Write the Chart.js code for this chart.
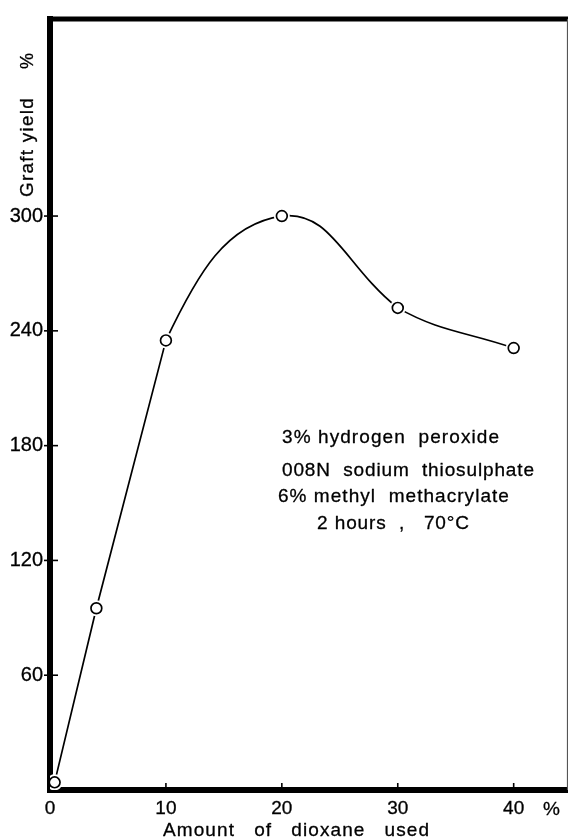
<!DOCTYPE html>
<html><head><meta charset="utf-8">
<script src="https://cdn.jsdelivr.net/npm/chart.js@4/dist/chart.umd.min.js"></script>
<style>html,body{margin:0;padding:0;background:#fff;overflow:hidden}canvas{display:block}</style>
</head><body>
<canvas id="c" width="568" height="838"></canvas>
<script>
// ---- data ----
const dioxanePct = [0.4, 4, 10, 20, 30, 40];
const graftYieldPct = [4, 95, 235, 300, 252, 231];
const xTickValues = [0, 10, 20, 30, 40];
const yTickValues = [60, 120, 180, 240, 300];
const conditionLines = ['3% hydrogen  peroxide', '008N  sodium  thiosulphate', '6% methyl  methacrylate', '2 hours  ,   70°C'];
const xAxisTitle = 'Amount   of   dioxane   used';
const yAxisTitle = 'Graft yield';
const unitLabel = '%';

const FONT = '"Liberation Sans", Arial, sans-serif';
const points = dioxanePct.map((x, i) => ({ x: x, y: graftYieldPct[i] }));

function fitText(ctx, text, x, y, w) {
  ctx.letterSpacing = '0px';
  const m = ctx.measureText(text).width;
  const n = [...text].length;
  const ls = (w - m) / Math.max(1, n);
  ctx.letterSpacing = ls.toFixed(2) + 'px';
  ctx.textAlign = 'left';
  ctx.strokeText(text, x, y);
  ctx.fillText(text, x, y);
  ctx.letterSpacing = '0px';
}

const framePlugin = {
  id: 'frame',
  afterDraw(chart) {
    const ctx = chart.ctx, a = chart.chartArea;
    const xs = chart.scales.x, ys = chart.scales.y;
    ctx.save();
    ctx.strokeStyle = '#000';
    // top border
    ctx.lineWidth = 5;
    ctx.beginPath(); ctx.moveTo(a.left - 3, a.top); ctx.lineTo(chart.width, a.top); ctx.stroke();
    // right thin border
    ctx.strokeStyle = '#555'; ctx.lineWidth = 1.2;
    ctx.beginPath(); ctx.moveTo(a.right + 0.5, a.top); ctx.lineTo(a.right + 0.5, a.bottom); ctx.stroke();
    // tick marks
    ctx.strokeStyle = '#000'; ctx.lineWidth = 1.6;
    yTickValues.forEach(v => {
      const p = ys.getPixelForValue(v);
      ctx.beginPath(); ctx.moveTo(a.left - 6, p); ctx.lineTo(a.left + 8, p); ctx.stroke();
    });
    xTickValues.forEach(v => {
      if (v === 0) return;
      const p = xs.getPixelForValue(v);
      ctx.beginPath(); ctx.moveTo(p, a.bottom - 7); ctx.lineTo(p, a.bottom); ctx.stroke();
    });
    ctx.fillStyle = '#000';
    ctx.strokeStyle = '#000';
    ctx.lineWidth = 0.3;
    ctx.lineJoin = 'round';
    ctx.textBaseline = 'alphabetic';
    // unit after the last x tick
    ctx.font = '19px ' + FONT;
    ctx.textAlign = 'left';
    ctx.strokeText(unitLabel, 543, 815);
    ctx.fillText(unitLabel, 543, 815);
    // x axis title
    ctx.font = '19px ' + FONT;
    fitText(ctx, xAxisTitle, 163, 836, 267);
    // y axis title (rotated)
    ctx.save();
    ctx.translate(33, 197);
    ctx.rotate(-Math.PI / 2);
    ctx.font = '19px ' + FONT;
    fitText(ctx, yAxisTitle, 0, 0, 100);
    ctx.restore();
    ctx.save();
    ctx.translate(33, 69);
    ctx.rotate(-Math.PI / 2);
    ctx.font = '18px ' + FONT;
    ctx.textAlign = 'left';
    ctx.strokeText(unitLabel, 0, 0);
    ctx.fillText(unitLabel, 0, 0);
    ctx.restore();
    // conditions annotation
    ctx.font = '19px ' + FONT;
    const lefts = [282, 282, 278, 317], rights = [500, 535, 510, 470], bases = [443, 476, 502, 529];
    conditionLines.forEach((t, i) => fitText(ctx, t, lefts[i], bases[i], rights[i] - lefts[i]));
    ctx.restore();
  }
};

new Chart(document.getElementById('c'), {
  type: 'line',
  data: {
    datasets: [
      { // markers
        data: points, showLine: false, order: 0,
        pointRadius: 5.4, pointBorderWidth: 1.7, pointBorderColor: '#000', pointBackgroundColor: '#fff'
      },
      { // white gaps around markers
        data: points, showLine: false, order: 1,
        pointRadius: 8, pointBorderWidth: 0, pointBorderColor: '#fff', pointBackgroundColor: '#fff'
      },
      { // straight rising part
        data: points.slice(0, 3), order: 2, tension: 0,
        borderColor: '#000', borderWidth: 1.7, pointRadius: 0, fill: false
      },
      { // smooth hump 10 % -> 30 % (first segment hidden, used only for the tangent at 10 %)
        data: points.slice(1, 5), order: 2, tension: 0.45,
        borderColor: '#000', borderWidth: 1.7, pointRadius: 0, fill: false,
        segment: { borderColor: c => c.p0DataIndex === 0 ? 'rgba(0,0,0,0)' : '#000' }
      },
      { // flattening tail 30 % -> 40 % (first segment hidden)
        data: points.slice(3), order: 2, tension: 0.4,
        borderColor: '#000', borderWidth: 1.7, pointRadius: 0, fill: false,
        segment: { borderColor: c => c.p0DataIndex === 0 ? 'rgba(0,0,0,0)' : '#000' }
      }
    ]
  },
  options: {
    responsive: false, animation: false, events: [],
    layout: { autoPadding: false, padding: { top: 15, right: 1, left: 0, bottom: 0 } },
    plugins: { legend: { display: false }, tooltip: { enabled: false }, title: { display: false } },
    scales: {
      x: {
        type: 'linear', min: 0, max: 44.6, z: 1,
        afterFit: s => { s.height = 48; },
        afterBuildTicks: s => { s.ticks = xTickValues.map(v => ({ value: v })); },
        grid: { display: false, drawTicks: false },
        border: { display: true, color: '#000', width: 6 },
        ticks: { color: '#000', font: { family: FONT, size: 19 }, padding: 7, maxRotation: 0, autoSkip: false,
                 textStrokeColor: '#000', textStrokeWidth: 0.3 }
      },
      y: {
        type: 'linear', min: 0, max: 403, z: 1,
        afterFit: s => { s.width = 50; },
        afterBuildTicks: s => { s.ticks = yTickValues.map(v => ({ value: v })); },
        grid: { display: false, drawTicks: false },
        border: { display: true, color: '#000', width: 6 },
        ticks: { color: '#000', font: { family: FONT, size: 20 }, padding: 7, autoSkip: false,
                 textStrokeColor: '#000', textStrokeWidth: 0.3 }
      }
    }
  },
  plugins: [framePlugin]
});
</script>
</body></html>
